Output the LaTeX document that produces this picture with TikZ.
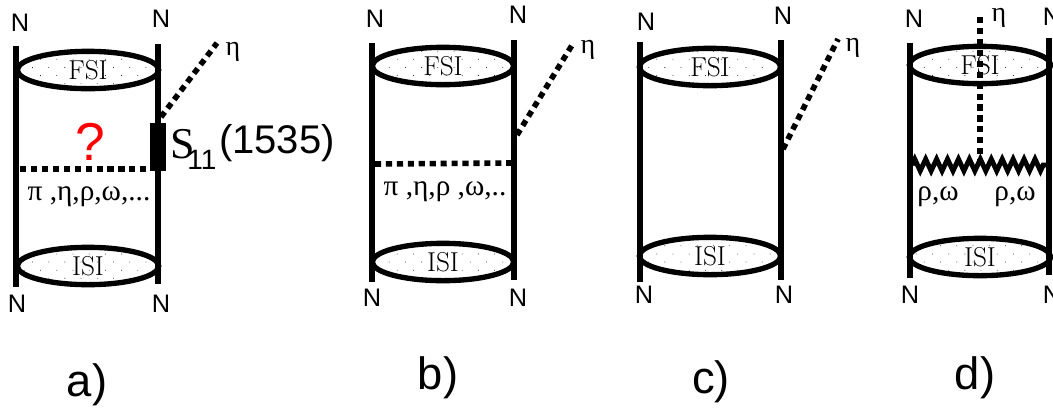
\documentclass[tikz,border=0pt]{standalone}
\usepackage{fontspec}
\setmainfont{Latin Modern Roman}
\newfontfamily\arialf{Liberation Sans}
\newfontfamily\timesf{Liberation Serif}
\usetikzlibrary{shapes.geometric,patterns.meta,decorations.pathmorphing}
\newcommand{\fpx}[1]{\fontsize{#1}{#1}\selectfont}
\tikzset{
  x=0.75pt,y=-0.75pt,
  nucleon/.style={line width=4pt},
  meson/.style={line width=4.2pt,dash pattern=on 4.6pt off 3.6pt},
  blob/.style={ellipse,draw,line width=4pt,inner sep=0pt,minimum width=106pt,minimum height=28pt,
     pattern={Dots[radius=0.42pt,distance=8.6pt,angle=45]},pattern color=black!85,
     font=\fpx{20.5}},
  nlabel/.style={font=\arialf\fpx{19},inner sep=0pt},
  sublabel/.style={font=\arialf\fpx{34},inner sep=0pt},
  glabel/.style={font=\timesf\fpx{21},inner sep=0pt},
  mlabel/.style={font=\timesf\fpx{22},inner sep=0pt},
}
\begin{document}
\begin{tikzpicture}
\useasboundingbox (0,0) rectangle (1053,408);
% panel a
\coordinate (a1) at (16,46); \coordinate (a2) at (16,287);
\coordinate (a3) at (158,44); \coordinate (a4) at (158,284);
\node[blob] (afsi) at (88,70) {FSI};
\node[blob] (aisi) at (88,266) {ISI};
\draw[nucleon] (a1) -- (a2);
\draw[nucleon] (a3) -- (a4);
\node[draw,fill=black,minimum width=11.5pt,minimum height=35pt,inner sep=0pt] (abox) at (158,147) {};
\coordinate (ae) at (217,43); \coordinate (am) at (20,169);
\draw[meson] (161,117) -- (ae);
\draw[meson] (am) -- (abox.south west |- am);
\node[glabel] (aeta) at (233,52) {η};
\node[nlabel] (an1) at (20,23) {N};
\node[nlabel] (an2) at (161,19) {N};
\node[nlabel] (an3) at (17,304) {N};
\node[nlabel] (an4) at (161,304) {N};
\node[font=\arialf\fpx{40},text=red,inner sep=0pt] (aq) at (90,142) {?};
\node[font=\timesf\fpx{22},inner sep=0pt] (alab) at (89,197) {π ,η,ρ,ω,...};
\node[font=\timesf\fpx{33},inner sep=0pt] (as) at (183,144) {S};
\node[font=\arialf\fpx{21},inner sep=0pt] (a11) at (202,160) {11};
\node[font=\arialf\fpx{30},inner sep=0pt] (a15) at (277,143) {(1535)};
\node[sublabel] (ta) at (87,385) {a)};
% panel b
\coordinate (b1) at (372,43); \coordinate (b2) at (372,282);
\coordinate (b3) at (514,40); \coordinate (b4) at (514,280);
\node[blob] (bfsi) at (443,66) {FSI};
\node[blob] (bisi) at (443,262) {ISI};
\draw[nucleon] (b1) -- (b2);
\draw[nucleon] (b3) -- (b4);
\coordinate (be0) at (517,135); \coordinate (be) at (574,42);
\coordinate (bm0) at (375,164); \coordinate (bm1) at (512,163);
\draw[meson] (be0) -- (be);
\draw[meson] (bm0) -- (bm1);
\node[glabel] (beta) at (588,50) {η};
\node[nlabel] (bn1) at (375,19) {N};
\node[nlabel] (bn2) at (518,15) {N};
\node[nlabel] (bn3) at (372,298) {N};
\node[nlabel] (bn4) at (518,298) {N};
\node[mlabel] (blab) at (445,192) {π ,η,ρ ,ω,..};
\node[sublabel] (tb) at (438,378) {b)};
% panel c
\coordinate (c1) at (640,42); \coordinate (c2) at (640,282);
\coordinate (c3) at (781,40); \coordinate (c4) at (781,280);
\node[blob] (cfsi) at (710,67) {FSI};
\node[blob] (cisi) at (710,256) {ISI};
\draw[nucleon] (c1) -- (c2);
\draw[nucleon] (c3) -- (c4);
\coordinate (ce0) at (783,149); \coordinate (ce) at (838,39);
\draw[meson] (ce0) -- (ce);
\node[glabel] (ceta) at (853,48) {η};
\node[nlabel] (cn1) at (646,22) {N};
\node[nlabel] (cn2) at (783,16) {N};
\node[nlabel] (cn3) at (644,295) {N};
\node[nlabel] (cn4) at (784,295) {N};
\node[sublabel] (tc) at (711,382) {c)};
% panel d
\coordinate (d1) at (910,43); \coordinate (d2) at (910,278);
\coordinate (d3) at (1049,38); \coordinate (d4) at (1049,275);
\node[blob] (dfsi) at (980,65) {FSI};
\node[blob] (disi) at (980,257) {ISI};
\draw[nucleon] (d1) -- (d2);
\draw[nucleon] (d3) -- (d4);
\coordinate (de) at (980,17); \coordinate (dv) at (980,170);
\coordinate (dz0) at (912,165); \coordinate (dz1) at (1047,165);
\draw[meson] (de) -- (dv);
\draw[line width=3.7pt,decorate,decoration={zigzag,segment length=8.2pt,amplitude=4.4pt}] (dz0) -- (dz1);
\node[glabel] (deta) at (999,18) {η};
\node[nlabel] (dn1) at (914,19) {N};
\node[nlabel] (dn2) at (1052,17) {N};
\node[nlabel] (dn3) at (910,295) {N};
\node[nlabel] (dn4) at (1052,295) {N};
\node[mlabel] (dl1) at (938,197) {ρ,ω};
\node[mlabel] (dl2) at (1015,197) {ρ,ω};
\node[sublabel] (td) at (975,378) {d)};
\end{tikzpicture}
\end{document}
